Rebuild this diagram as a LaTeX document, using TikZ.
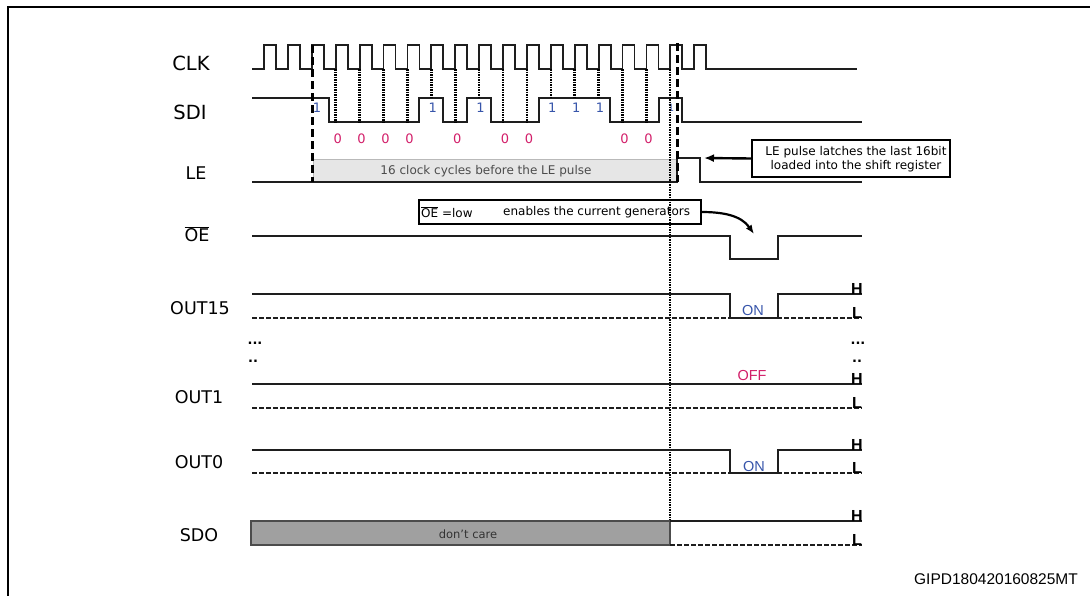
\documentclass[tikz,border=0pt]{standalone}
\usepackage{fontspec}
\setmainfont{DejaVu Sans}
\newfontfamily\arialf{Liberation Sans}
\usetikzlibrary{arrows.meta}
\definecolor{bitblue}{RGB}{55,85,170}
\definecolor{bitred}{RGB}{210,30,105}
\definecolor{sigcol}{RGB}{30,30,30}
\definecolor{boxgray}{RGB}{230,230,230}
\definecolor{dcgray}{RGB}{160,160,160}
\begin{document}
\begin{tikzpicture}[x=1pt,y=-1pt,
  sig/.style={draw=sigcol,line width=1.8pt},
  lowdash/.style={draw=sigcol,line width=2.2pt,dash pattern=on 4.5pt off 2.5pt},
  bitdot/.style={draw=black,line width=2.6pt,dash pattern=on 1.6pt off 0.9pt},
  framedash/.style={draw=black,line width=3pt,dash pattern=on 8pt off 4pt},
  sglabel/.style={font=\fontsize{17.5}{20}\selectfont,inner sep=0pt},
  biglabel/.style={font=\fontsize{19.5}{22}\selectfont,inner sep=0pt},
  one/.style={text=bitblue,font=\fontsize{13}{15}\selectfont,inner sep=0pt},
  zero/.style={text=bitred,font=\fontsize{13}{15}\selectfont,inner sep=0pt},
  hl/.style={font=\arialf\bfseries\fontsize{16}{18}\selectfont,anchor=south,inner sep=0pt},
  dots/.style={font=\bfseries\fontsize{13}{15}\selectfont,inner sep=0pt},
  small/.style={font=\fontsize{12}{14}\selectfont,inner sep=0pt},
  callout/.style={draw=black,line width=1.2pt,inner sep=0pt},
  note/.style={font=\arialf\fontsize{14.5}{16}\selectfont,inner sep=0pt},
  bigarrow/.style={draw=black,line width=2.4pt,-{Latex[length=10pt,width=8pt]}}
]
\useasboundingbox (0,0) rectangle (1090,595);
% outer frame
\draw[line width=2.8pt] (8,596) -- (8,7) -- (1091,7);

% signal labels
\node[biglabel] (lclk) at (191,63) {CLK};
\node[biglabel] (lsdi) at (190,112) {SDI};
\node[sglabel] (lle) at (196,173) {LE};
\node[sglabel] (loe) at (197,234) {$\overline{\mbox{OE}}$};
\node[sglabel] (lo15) at (200,308) {OUT15};
\node[dots] (ldots1) at (255,343) {...};
\node[dots] (ldots2) at (253,361) {..};
\node[sglabel] (lo1) at (199,397) {OUT1};
\node[sglabel] (lo0) at (199,462) {OUT0};
\node[sglabel] (lsdo) at (199,535) {SDO};

% CLK
\draw[sig] (252,69) -- (264,69)
  foreach \k in {0,...,18} { -- ({264+23.9*\k},69) -- ({264+23.9*\k},45) -- ({276+23.9*\k},45) -- ({276+23.9*\k},69) }
  -- (857,69);

% SDI
\draw[sig] (252,98) -- (329,98) -- (329,122) -- (419,122) -- (419,98) -- (443,98) -- (443,122)
  -- (467,122) -- (467,98) -- (491,98) -- (491,122) -- (539,122) -- (539,98) -- (610,98)
  -- (610,122) -- (659,122) -- (659,98) -- (682,98) -- (682,122) -- (862,122);

% bit sampling lines and values
\foreach \k/\b in {3/0,4/0,5/0,6/0,7/1,8/0,9/1,10/0,11/0,12/1,13/1,14/1,15/0,16/0} {
  \pgfmathsetmacro\xx{264+23.9*\k}
  \ifnum\b=1
    \draw[bitdot] (\xx,69) -- (\xx,98);
    \node[one] (b\k) at ({\xx+1.5},108) {1};
  \else
    \draw[bitdot] (\xx,69) -- (\xx,122);
    \node[zero] (b\k) at ({\xx+2},139) {0};
  \fi
}
\node[one] (b2) at (317,108) {1};
\node[one,font=\fontsize{10}{12}\selectfont] (b17) at (671,108) {1};

% LE
\draw[draw=gray!55,fill=boxgray,line width=0.8pt] (313,159) rectangle (677,182);
\node[small,text=black!70] (lecyc) at (486,171) {16 clock cycles before the LE pulse};
\draw[sig] (252,182) -- (677,182) -- (677,158) -- (700,158) -- (700,182) -- (862,182);

% frame dashed lines and long dotted line
\draw[framedash] (312,45) -- (312,182);
\draw[framedash] (677,43) -- (677,182);
\draw[bitdot] (670,69) -- (670,545);

% LE callout
\node[callout,minimum width=198pt,minimum height=37pt] (lebox) at (851,158.5) {};
\node[small,align=center] (letext) at (856,159.5) {LE pulse latches the last 16bit\\loaded into the shift register};
\coordinate (letip) at (704,158);
\draw[bigarrow] (lebox.west) -- (letip);

% OE
\draw[sig] (252,236) -- (730,236) -- (730,259) -- (778,259) -- (778,236) -- (862,236);
\node[callout,minimum width=282pt,minimum height=24pt] (oebox) at (560,212) {};
\node[small,anchor=west] (oet1) at (421,212) {$\overline{\mbox{OE}}$ =low};
\node[small,anchor=west] (oet2) at (503,212) {enables the current generators};
\coordinate (oetip) at (754,234);
\draw[draw=black,line width=2.2pt,-{Latex[length=9pt,width=7pt]}] (oebox.east) to[out=0,in=125] (oetip);

% OUT15
\draw[lowdash] (252,318) -- (862,318);
\draw[sig] (252,294) -- (730,294) -- (730,318) -- (778,318) -- (778,294) -- (862,294);
\node[note,text=bitblue] (on15) at (753,311) {ON};
\node[hl] (h15) at (857,295) {H};
\node[hl] (l15) at (857,319) {L};

% dots right
\node[dots] (rdots1) at (858,343) {...};
\node[dots] (rdots2) at (857,361) {..};

% OUT1
\draw[lowdash] (252,408) -- (862,408);
\draw[sig] (252,384) -- (862,384);
\node[note,text=bitred] (off1) at (752,376) {OFF};
\node[hl] (h1) at (857,385) {H};
\node[hl] (l1) at (857,409) {L};

% OUT0
\draw[lowdash] (252,473) -- (862,473);
\draw[sig] (252,450) -- (730,450) -- (730,473) -- (778,473) -- (778,450) -- (862,450);
\node[note,text=bitblue] (on0) at (754,467) {ON};
\node[hl] (h0) at (857,451) {H};
\node[hl] (l0) at (857,474) {L};

% SDO
\draw[draw=black!70,fill=dcgray,line width=1.4pt] (251,521) rectangle (670,545);
\node[small,font=\fontsize{11.5}{13}\selectfont,text=black!80] (dc) at (468,534) {don’t care};
\draw[lowdash] (670,545) -- (862,545);
\draw[sig] (670,521) -- (862,521);
\node[hl] (hs) at (857,522) {H};
\node[hl] (ls) at (857,546) {L};

% figure id
\node[font=\arialf\fontsize{15.5}{17}\selectfont,inner sep=0pt] (fid) at (996,579) {GIPD180420160825MT};
\end{tikzpicture}
\end{document}
